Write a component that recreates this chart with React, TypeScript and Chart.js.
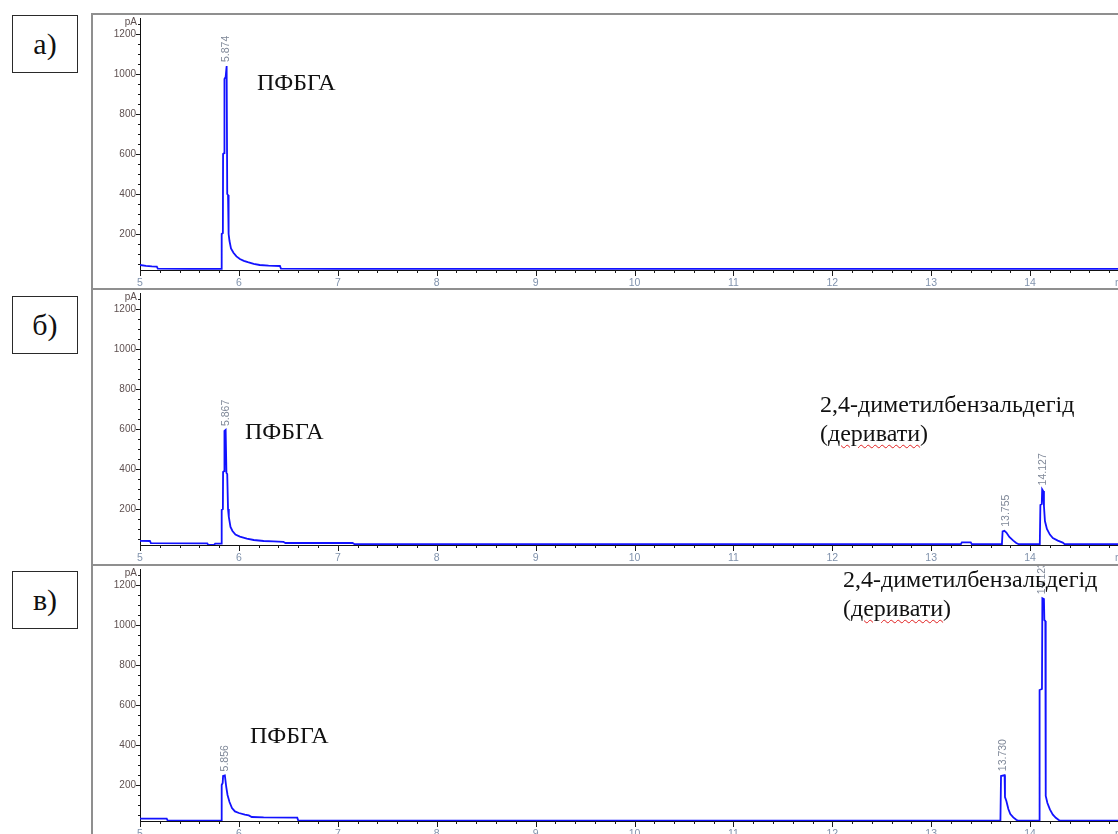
import React, { useEffect, useRef } from "react";
import { Chart, registerables } from "chart.js";

Chart.register(...registerables);

// ---- axes ----
const X_MIN = 5;
const X_MAX = 15;
const Y_MIN = 20;
const Y_MAX = 1280;
const xMajorTicks = [5, 6, 7, 8, 9, 10, 11, 12, 13, 14];
const xMinorStep = 0.2;
const xUnitLabel = "min";
const yMajorTicks = [200, 400, 600, 800, 1000, 1200];
const yMinorStep = 50;
const yUnitLabel = "pA";

// ---- panel а) ----
const timeA = [5.0, 5.06, 5.12, 5.17, 5.18, 5.5, 5.822, 5.826, 5.838, 5.84, 5.852, 5.854, 5.866, 5.876, 5.882, 5.89, 5.896, 5.905, 5.92, 5.945, 5.975, 6.01, 6.05, 6.09, 6.15, 6.21, 6.3, 6.415, 6.425, 7.0, 9.0, 11.0, 13.0, 15.0];
const signalA = [45, 41, 38, 37, 27, 26, 26, 200, 205, 600, 605, 975, 985, 1040, 400, 395, 200, 165, 128, 106, 88, 75, 66, 59, 51, 45, 42, 40, 27, 26, 26, 26, 26, 26];
const peakTimesA = [5.874];
const peakLabelsA = ["5.874"];

// ---- panel б) ----
const timeB = [5.0, 5.1, 5.11, 5.68, 5.69, 5.75, 5.76, 5.822, 5.826, 5.838, 5.84, 5.852, 5.854, 5.866, 5.874, 5.882, 5.89, 5.898, 5.915, 5.935, 5.965, 6.01, 6.08, 6.15, 6.25, 6.35, 6.45, 6.47, 7.15, 7.17, 9.0, 11.0, 13.3, 13.31, 13.4, 13.41, 13.715, 13.722, 13.74, 13.76, 13.79, 13.83, 13.86, 13.885, 14.098, 14.104, 14.118, 14.122, 14.132, 14.14, 14.15, 14.17, 14.2, 14.23, 14.28, 14.33, 14.35, 15.0];
const signalB = [41, 40, 29, 28, 21, 21, 27, 27, 195, 200, 385, 390, 590, 595, 380, 375, 200, 160, 110, 90, 72, 62, 52, 45, 40, 38, 36, 30, 30, 24, 24, 24, 24, 33, 33, 24, 24, 88, 91, 82, 60, 42, 30, 24, 24, 220, 225, 298, 290, 215, 140, 100, 72, 55, 42, 32, 24, 24];
const peakTimesB = [5.867, 13.755, 14.127];
const peakLabelsB = ["5.867", "13.755", "14.127"];

// ---- panel в) ----
const timeC = [5.0, 5.27, 5.28, 5.822, 5.826, 5.836, 5.84, 5.858, 5.872, 5.885, 5.905, 5.93, 5.96, 6.0, 6.06, 6.1, 6.13, 6.25, 6.59, 6.6, 9.0, 12.0, 13.7, 13.706, 13.742, 13.746, 13.76, 13.78, 13.8, 13.83, 13.86, 13.875, 14.09, 14.096, 14.12, 14.124, 14.14, 14.144, 14.154, 14.158, 14.175, 14.2, 14.23, 14.26, 14.29, 14.3, 15.0];
const signalC = [32, 32, 22, 22, 200, 210, 245, 248, 190, 150, 115, 85, 68, 60, 52, 48, 40, 38, 37, 22, 22, 22, 22, 245, 249, 140, 120, 80, 55, 38, 26, 22, 22, 675, 680, 1134, 1130, 1025, 1020, 145, 110, 78, 52, 36, 25, 22, 22];
const peakTimesC = [5.856, 13.73, 14.123];
const peakLabelsC = ["5.856", "13.730", "14.123"];

// ---- texts ----
const panelLetters = ["а)", "б)", "в)"];
const reagentName = "ПФБГА";
const analyteName = "2,4-диметилбензальдегід";
const derivWord = "деривати";

const SERIF = "'Liberation Serif', 'Times New Roman', Times, serif";
const SANS = "'Liberation Sans', Arial, sans-serif";

type PanelProps = {
  top: number;
  times: number[];
  signal: number[];
  peakTimes: number[];
  peakLabels: string[];
};

function ChromPanel({ top, times, signal, peakTimes, peakLabels }: PanelProps) {
  const ref = useRef<HTMLCanvasElement>(null);

  useEffect(() => {
    const canvas = ref.current;
    if (!canvas) return;

    const decor = {
      id: "decor",
      afterDatasetsDraw(chart: any) {
        const { ctx, chartArea } = chart;
        const xs = chart.scales.x;
        const ys = chart.scales.y;
        ctx.save();
        ctx.strokeStyle = "#1a1a1a";
        ctx.lineWidth = 1;
        ctx.beginPath();
        const nX = Math.round((X_MAX - X_MIN) / xMinorStep);
        for (let i = 0; i <= nX; i++) {
          const v = X_MIN + i * xMinorStep;
          const major = Math.abs(v - Math.round(v)) < 1e-6;
          const px = Math.round(xs.getPixelForValue(v)) + 0.5;
          ctx.moveTo(px, chartArea.bottom);
          ctx.lineTo(px, chartArea.bottom + (major ? 6 : 3));
        }
        for (let v = yMinorStep; v < Y_MAX; v += yMinorStep) {
          if (v <= Y_MIN) continue;
          const major = yMajorTicks.includes(v);
          const py = Math.round(ys.getPixelForValue(v)) + 0.5;
          ctx.moveTo(chartArea.left, py);
          ctx.lineTo(chartArea.left - (major ? 4 : 2), py);
        }
        ctx.stroke();

        ctx.font = `10px ${SANS}`;
        ctx.textBaseline = "middle";
        ctx.textAlign = "right";
        ctx.fillStyle = "#5e5050";
        ctx.fillText(yUnitLabel, chartArea.left - 3, chartArea.top + 4);
        ctx.fillStyle = "#8193ad";
        ctx.font = `10.5px ${SANS}`;
        ctx.fillText(xUnitLabel, chartArea.right + 3, chartArea.bottom + 13);

        ctx.fillStyle = "#7f8898";
        ctx.font = `10.5px ${SANS}`;
        ctx.textAlign = "left";
        peakTimes.forEach((pt, i) => {
          let best = -Infinity;
          times.forEach((t, j) => {
            if (Math.abs(t - pt) < 0.05 && signal[j] > best) best = signal[j];
          });
          const px = xs.getPixelForValue(pt);
          const py = ys.getPixelForValue(best) - 4;
          ctx.save();
          ctx.translate(px, py);
          ctx.rotate(-Math.PI / 2);
          ctx.fillText(peakLabels[i], 0, 0);
          ctx.restore();
        });
        ctx.restore();
      },
    };

    const chart = new Chart(canvas, {
      type: "line",
      data: {
        datasets: [
          {
            data: times.map((t, i) => ({ x: t, y: signal[i] })),
            borderColor: "rgb(18,18,255)",
            borderWidth: 1.8,
            pointRadius: 0,
            tension: 0,
            fill: false,
          },
        ],
      },
      options: {
        responsive: false,
        animation: false,
        events: [],
        layout: { padding: { top: 3, right: 24, left: 0, bottom: 0 } },
        plugins: { legend: { display: false }, tooltip: { enabled: false } },
        scales: {
          x: {
            type: "linear",
            min: X_MIN,
            max: X_MAX,
            afterBuildTicks: (axis: any) => {
              axis.ticks = xMajorTicks.map((v) => ({ value: v }));
            },
            afterFit: (axis: any) => {
              axis.height = 20;
              axis.paddingLeft = 0;
              axis.paddingRight = 0;
            },
            ticks: {
              autoSkip: false,
              maxRotation: 0,
              padding: 7,
              color: "#8193ad",
              font: { size: 10.5, family: SANS },
              callback: (v: any) => String(v),
            },
            grid: { display: false, drawTicks: false },
            border: { display: true, color: "#111", width: 1 },
          },
          y: {
            type: "linear",
            min: Y_MIN,
            max: Y_MAX,
            afterBuildTicks: (axis: any) => {
              axis.ticks = yMajorTicks.map((v) => ({ value: v }));
            },
            afterFit: (axis: any) => {
              axis.width = 47;
              axis.paddingTop = 0;
              axis.paddingBottom = 0;
            },
            ticks: {
              autoSkip: false,
              padding: 4,
              color: "#5e5050",
              font: { size: 10, family: SANS },
              callback: (v: any) => String(v),
            },
            grid: { display: false, drawTicks: false },
            border: { display: true, color: "#111", width: 1 },
          },
        },
      },
      plugins: [decor],
    } as any);

    return () => chart.destroy();
  }, [times, signal, peakTimes, peakLabels]);

  return (
    <canvas
      ref={ref}
      width={1060}
      height={275}
      style={{ position: "absolute", left: 93, top: top + 1, width: 1060, height: 275 }}
    />
  );
}

const boxStyle = (top: number): React.CSSProperties => ({
  position: "absolute",
  left: 12,
  top,
  width: 66,
  height: 58,
  border: "1.5px solid #2a2a2a",
  display: "flex",
  alignItems: "center",
  justifyContent: "center",
  fontFamily: SERIF,
  fontSize: 30,
  color: "#111",
  boxSizing: "border-box",
});

const labelStyle = (left: number, top: number): React.CSSProperties => ({
  position: "absolute",
  left,
  top,
  fontFamily: SERIF,
  fontSize: 24,
  lineHeight: "29px",
  color: "#111",
  whiteSpace: "nowrap",
});

const wavy: React.CSSProperties = {
  textDecorationLine: "underline",
  textDecorationStyle: "wavy",
  textDecorationColor: "#e02020",
  textDecorationThickness: "1px",
  textUnderlineOffset: "3px",
};

export default function App() {
  const tops = [14, 289, 565];
  return (
    <div
      style={{
        position: "fixed",
        left: 0,
        top: 0,
        width: 1118,
        height: 834,
        overflow: "hidden",
        background: "#fff",
      }}
    >
      <ChromPanel top={tops[0]} times={timeA} signal={signalA} peakTimes={peakTimesA} peakLabels={peakLabelsA} />
      <ChromPanel top={tops[1]} times={timeB} signal={signalB} peakTimes={peakTimesB} peakLabels={peakLabelsB} />
      <ChromPanel top={tops[2]} times={timeC} signal={signalC} peakTimes={peakTimesC} peakLabels={peakLabelsC} />

      {/* frame */}
      <div style={{ position: "absolute", left: 91, top: 13, width: 2, height: 830, background: "#8f8f8f" }} />
      {tops.map((t) => (
        <div key={t} style={{ position: "absolute", left: 91, top: t - 1, width: 1040, height: 2, background: "#8f8f8f" }} />
      ))}

      {/* panel letters */}
      <div style={boxStyle(15)}>{panelLetters[0]}</div>
      <div style={boxStyle(296)}>{panelLetters[1]}</div>
      <div style={boxStyle(571)}>{panelLetters[2]}</div>

      {/* annotations */}
      <div style={labelStyle(257, 68)}>{reagentName}</div>
      <div style={labelStyle(245, 417)}>{reagentName}</div>
      <div style={labelStyle(250, 721)}>{reagentName}</div>

      <div style={labelStyle(820, 390)}>
        {analyteName}
        <br />(<span style={wavy}>{derivWord}</span>)
      </div>
      <div style={labelStyle(843, 565)}>
        {analyteName}
        <br />(<span style={wavy}>{derivWord}</span>)
      </div>
    </div>
  );
}
